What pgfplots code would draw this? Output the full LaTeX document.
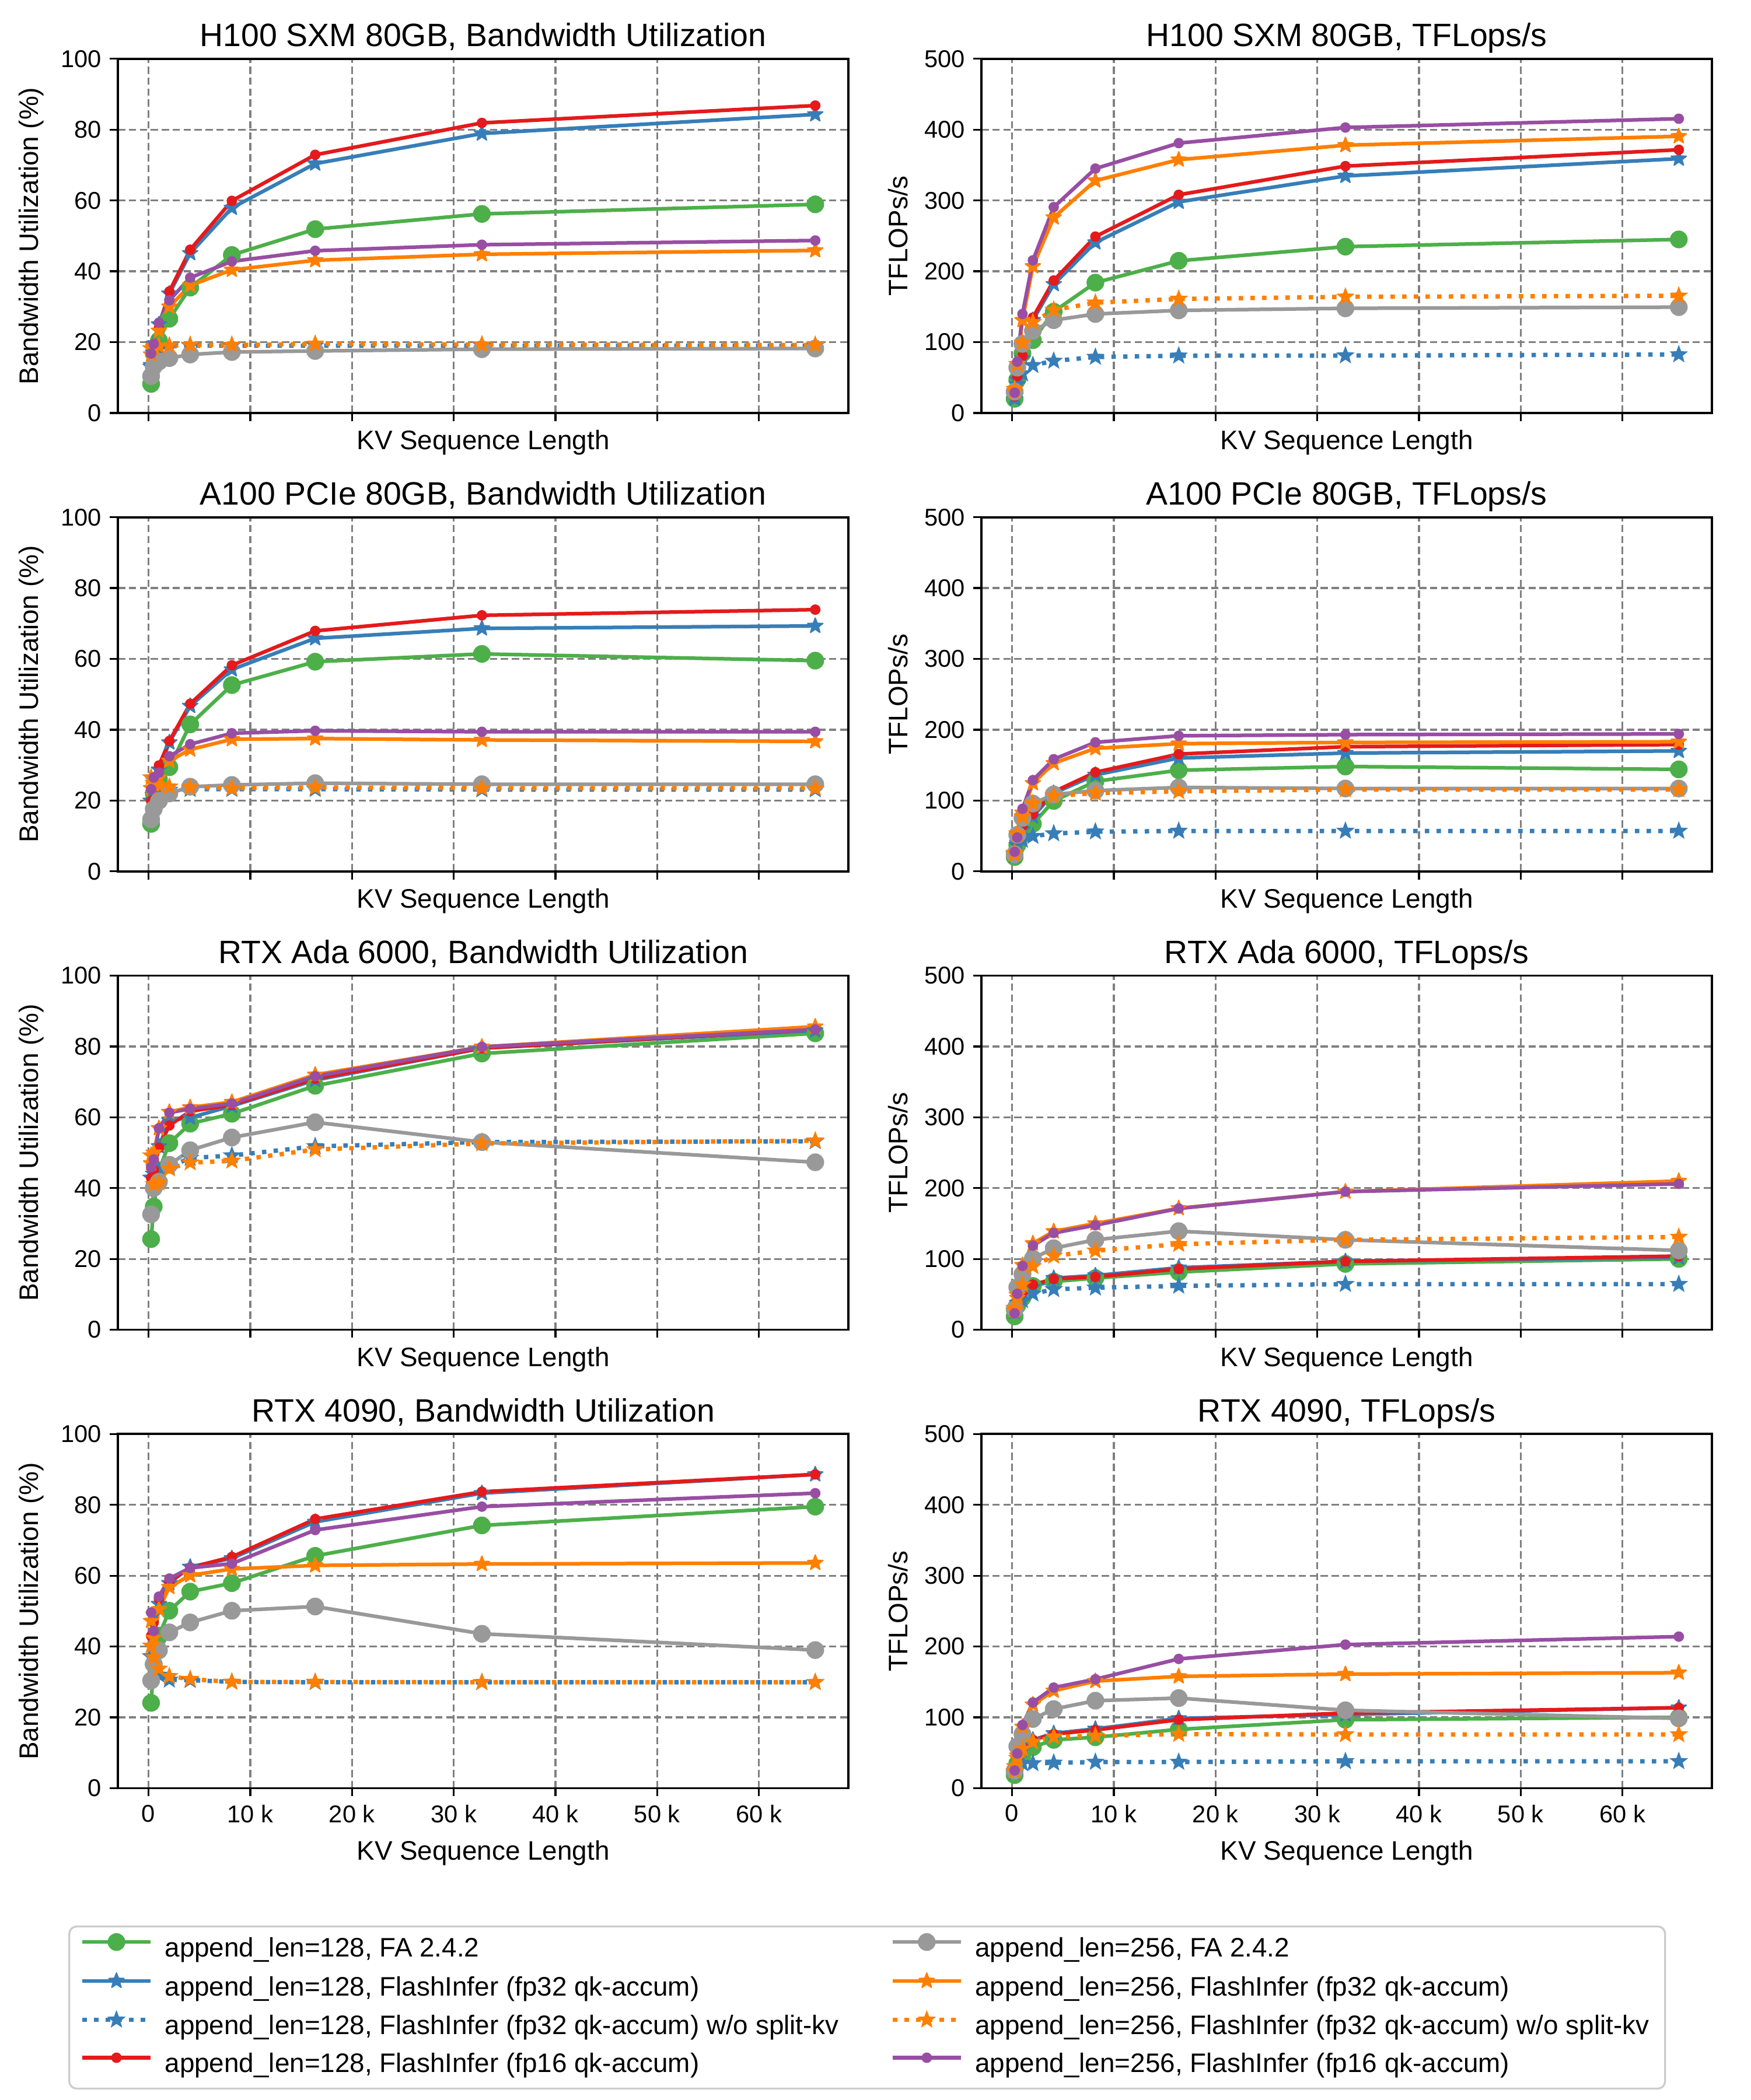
\documentclass[border=0pt]{standalone}
\usepackage{fontspec}
\setmainfont{Liberation Sans}
\usepackage{pgfplots}
\usepackage{pgfplotstable}
\pgfplotsset{compat=1.18}
\usepgfplotslibrary{groupplots}
\usetikzlibrary{calc}

\definecolor{cgreen}{HTML}{4DAF4A}
\definecolor{cblue}{HTML}{377EB8}
\definecolor{cred}{HTML}{E41A1C}
\definecolor{cgray}{HTML}{999999}
\definecolor{corange}{HTML}{FF7F00}
\definecolor{cpurple}{HTML}{984EA3}

\pgfdeclareplotmark{fstar}{%
  \pgfpathmoveto{\pgfpointpolar{90}{\pgfplotmarksize}}%
  \pgfpathlineto{\pgfpointpolar{126}{0.42\pgfplotmarksize}}%
  \pgfpathlineto{\pgfpointpolar{162}{\pgfplotmarksize}}%
  \pgfpathlineto{\pgfpointpolar{198}{0.42\pgfplotmarksize}}%
  \pgfpathlineto{\pgfpointpolar{234}{\pgfplotmarksize}}%
  \pgfpathlineto{\pgfpointpolar{270}{0.42\pgfplotmarksize}}%
  \pgfpathlineto{\pgfpointpolar{306}{\pgfplotmarksize}}%
  \pgfpathlineto{\pgfpointpolar{342}{0.42\pgfplotmarksize}}%
  \pgfpathlineto{\pgfpointpolar{18}{\pgfplotmarksize}}%
  \pgfpathlineto{\pgfpointpolar{54}{0.42\pgfplotmarksize}}%
  \pgfpathclose
  \pgfusepathqfillstroke
}

\pgfplotsset{
  sG/.style={color=cgreen, line width=1.5pt, solid, line join=round, mark=*, mark size=3.4pt, mark options={solid, fill=cgreen, line width=0.5pt}},
  sK/.style={color=cgray, line width=1.5pt, solid, line join=round, mark=*, mark size=3.4pt, mark options={solid, fill=cgray, line width=0.5pt}},
  sB/.style={color=cblue, line width=1.5pt, solid, line join=round, mark=fstar, mark size=3.3pt, mark options={solid, fill=cblue, line width=0.5pt}},
  sO/.style={color=corange, line width=1.5pt, solid, line join=round, mark=fstar, mark size=3.3pt, mark options={solid, fill=corange, line width=0.5pt}},
  sBd/.style={color=cblue, line width=1.8pt, dash pattern=on 1.8pt off 3pt, line cap=butt, mark=fstar, mark size=3.3pt, mark options={solid, fill=cblue, line width=0.5pt}},
  sOd/.style={color=corange, line width=1.8pt, dash pattern=on 1.8pt off 3pt, line cap=butt, mark=fstar, mark size=3.3pt, mark options={solid, fill=corange, line width=0.5pt}},
  sR/.style={color=cred, line width=1.5pt, solid, line join=round, mark=*, mark size=1.9pt, mark options={solid, fill=cred, line width=0.5pt}},
  sP/.style={color=cpurple, line width=1.5pt, solid, line join=round, mark=*, mark size=1.9pt, mark options={solid, fill=cpurple, line width=0.5pt}},
  upperrow/.style={xticklabels={}, xlabel style={at={(axis description cs:0.5,0)}, anchor=base, yshift=-15pt}},
  lowerrow/.style={xticklabels={0,10 k,20 k,30 k,40 k,50 k,60 k}, xlabel style={at={(axis description cs:0.5,0)}, anchor=base, yshift=-29.5pt}},
  bwaxis/.style={ymin=0, ymax=100, ytick={0,20,40,60,80,100}, ylabel={Bandwidth Utilization (\%)}},
  tfaxis/.style={ymin=0, ymax=500, ytick={0,100,200,300,400,500}, ylabel={TFLOPs/s}},
}

\newcommand{\allseries}[1]{%
  \addplot[sG] table[x=x,y=g]{#1};
  \addplot[sB] table[x=x,y=b]{#1};
  \addplot[sBd] table[x=x,y=bd]{#1};
  \addplot[sR] table[x=x,y=r]{#1};
  \addplot[sK] table[x=x,y=k]{#1};
  \addplot[sO] table[x=x,y=o]{#1};
  \addplot[sOd] table[x=x,y=od]{#1};
  \addplot[sP] table[x=x,y=p]{#1};
}

\pgfplotstableread{
x g b bd r k o od p
256 8.2 13.5 13.0 16.8 10.4 16.5 18.2 16.8
512 16.8 19.5 17.0 19.5 13.1 18.9 18.6 19.5
1024 20.5 25.0 18.3 24.0 14.5 23.2 18.9 25.5
2048 26.6 33.7 18.8 34.3 15.5 30.0 19.0 31.8
4096 35.4 45.1 19.0 46.1 16.5 36.0 19.2 38.2
8192 44.6 57.9 19.0 59.9 17.2 40.4 19.2 42.8
16384 51.9 70.4 19.0 72.9 17.5 43.1 19.5 45.8
32768 56.2 78.9 19.0 81.9 18.0 44.8 19.3 47.5
65536 58.9 84.3 19.0 86.8 18.2 45.9 19.2 48.7
}\tHbw

\pgfplotstableread{
x g b bd r k o od p
256 20.0 20.0 23.6 23.6 30.0 30.0 33.7 28.6
512 47.0 47.0 40.4 52.0 64.0 69.0 69.0 72.4
1024 84.0 77.0 55.6 80.8 97.6 131.0 99.0 139.7
2048 102.7 131.0 67.3 134.7 116.0 207.0 128.0 215.5
4096 143.0 181.8 73.4 187.0 131.0 276.0 145.5 290.6
8192 184.0 240.7 79.0 249.0 139.7 328.0 155.6 345.0
16384 214.8 298.0 80.8 308.0 144.8 357.6 161.0 381.0
32768 234.8 334.6 81.0 348.5 147.7 378.0 164.0 403.0
65536 245.0 359.0 82.5 371.6 149.4 390.6 165.4 415.4
}\tHtf

\pgfplotstableread{
x g b bd r k o od p
256 13.4 19.9 19.9 19.9 14.7 23.5 26.5 23.2
512 22.0 25.7 21.5 26.5 17.6 24.5 25.0 26.5
1024 26.0 28.7 22.5 29.9 19.9 26.5 24.3 27.9
2048 29.4 36.4 23.0 36.8 22.0 31.2 23.9 32.5
4096 41.5 46.7 23.2 47.3 23.9 34.4 23.7 35.9
8192 52.6 57.0 23.2 58.2 24.4 37.3 23.5 39.0
16384 59.2 65.8 23.2 67.9 24.9 37.5 23.7 39.7
32768 61.4 68.6 23.1 72.3 24.6 37.1 23.5 39.4
65536 59.5 69.3 23.1 73.9 24.6 36.7 23.5 39.4
}\tAbw

\pgfplotstableread{
x g b bd r k o od p
256 20.2 22.0 24.0 27.6 24.0 23.9 25.8 27.6
512 36.8 40.5 36.8 46.0 51.5 51.5 53.4 47.8
1024 51.5 59.0 44.2 64.4 75.4 82.8 77.3 88.3
2048 67.0 77.3 49.7 81.0 95.7 124.4 95.7 128.8
4096 99.4 110.4 53.4 112.3 108.6 152.7 106.7 158.3
8192 127.0 136.2 56.0 139.9 114.0 173.7 110.4 182.2
16384 142.8 160.0 57.0 165.6 118.5 180.3 113.0 191.4
32768 148.0 167.0 57.0 176.0 117.0 182.0 115.5 193.0
65536 144.0 170.0 57.0 179.0 117.0 183.0 115.5 194.0
}\tAtf

\pgfplotstableread{
x g b bd r k o od p
256 25.6 42.9 42.9 42.9 32.6 47.0 49.2 45.9
512 34.8 45.9 44.0 45.1 40.0 50.0 41.1 48.1
1024 45.0 51.8 45.0 51.4 41.8 56.9 41.5 56.9
2048 52.7 59.1 46.0 57.7 46.6 61.5 45.5 61.3
4096 58.2 59.9 48.5 61.7 50.7 62.8 47.2 62.4
8192 61.0 63.2 49.2 63.5 54.3 64.3 47.7 63.9
16384 68.9 70.5 51.8 70.9 58.6 72.0 50.9 71.6
32768 78.0 79.5 53.0 79.5 53.0 79.9 52.6 79.9
65536 83.7 84.5 53.2 84.8 47.3 85.6 53.4 84.8
}\tEbw

\pgfplotstableread{
x g b bd r k o od p
256 18.8 25.0 26.9 26.9 28.7 27.0 30.6 23.2
512 34.2 37.9 34.2 41.6 60.0 45.0 49.0 50.8
1024 45.3 50.8 41.6 52.7 78.4 91.3 63.7 90.2
2048 61.9 60.0 50.8 63.7 100.5 121.9 89.5 118.9
4096 68.1 72.9 57.1 71.8 115.2 139.0 104.2 136.6
8192 72.9 76.6 59.3 74.7 127.0 150.0 111.6 147.6
16384 81.4 87.6 61.9 85.8 139.2 171.5 120.8 171.2
32768 93.0 96.6 64.4 96.6 127.0 195.0 127.0 195.0
65536 100.0 102.0 64.4 104.0 112.0 210.0 131.0 206.0
}\tEtf

\pgfplotstableread{
x g b bd r k o od p
256 24.1 37.2 37.2 43.0 30.4 47.2 40.2 49.6
512 35.0 49.0 34.3 46.8 35.0 42.4 36.9 44.4
1024 43.1 52.0 32.0 53.5 38.9 50.5 33.7 54.1
2048 50.1 57.9 30.6 58.3 44.0 56.8 31.6 59.2
4096 55.5 62.5 30.5 62.3 46.8 60.1 30.8 62.2
8192 57.9 64.9 30.0 65.3 50.1 61.9 30.0 63.4
16384 65.6 75.2 29.9 76.0 51.3 62.9 30.0 72.9
32768 74.2 83.3 29.9 83.7 43.6 63.3 29.9 79.5
65536 79.5 88.6 29.9 88.6 39.0 63.6 29.9 83.3
}\tRbw

\pgfplotstableread{
x g b bd r k o od p
256 18.4 24.0 22.0 29.5 24.7 31.0 24.0 25.0
512 35.0 42.4 29.5 46.0 59.0 46.0 42.4 49.0
1024 46.0 53.5 35.0 59.0 76.3 86.7 55.3 89.2
2048 57.9 68.2 35.0 68.2 97.7 118.0 65.3 121.0
4096 68.2 77.4 35.8 76.3 111.7 137.5 72.6 142.0
8192 71.9 83.7 36.9 82.2 123.5 151.2 73.7 153.8
16384 83.0 98.5 36.9 96.6 127.2 157.8 76.3 182.5
32768 96.6 104.0 37.9 106.0 110.0 161.0 75.8 202.7
65536 100.0 113.6 37.9 113.6 98.5 163.0 75.8 214.0
}\tRtf

\begin{document}
\begin{tikzpicture}
\begin{groupplot}[
  group style={group size=2 by 4, horizontal sep=54.7pt, vertical sep=42.9pt},
  scale only axis, width=300.5pt, height=145.7pt,
  xmin=-3008, xmax=68800,
  xtick={0,10000,20000,30000,40000,50000,60000},
  scaled ticks=false,
  xlabel={KV Sequence Length},
  tick pos=left, tick align=outside,
  major tick length=3.3pt,
  tick style={black, line width=0.8pt},
  axis line style={black, line width=0.9pt},
  grid=major,
  major grid style={color=gray, line width=0.8pt, dash pattern=on 3pt off 1.5pt},
  /pgf/number format/assume math mode=true,
  tick label style={font=\fontsize{10}{12}\selectfont},
  label style={font=\fontsize{11}{13}\selectfont},
  title style={font=\fontsize{13.3}{15}\selectfont, at={(0.5,1)}, anchor=base, yshift=-1pt},
]
\nextgroupplot[upperrow, bwaxis, title={H100 SXM 80GB, Bandwidth Utilization}]
\allseries{\tHbw}
\nextgroupplot[upperrow, tfaxis, title={H100 SXM 80GB, TFLops/s}]
\allseries{\tHtf}
\nextgroupplot[upperrow, bwaxis, title={A100 PCIe 80GB, Bandwidth Utilization}]
\allseries{\tAbw}
\nextgroupplot[upperrow, tfaxis, title={A100 PCIe 80GB, TFLops/s}]
\allseries{\tAtf}
\nextgroupplot[upperrow, bwaxis, title={RTX Ada 6000, Bandwidth Utilization}]
\allseries{\tEbw}
\nextgroupplot[upperrow, tfaxis, title={RTX Ada 6000, TFLops/s}]
\allseries{\tEtf}
\nextgroupplot[lowerrow, bwaxis, title={RTX 4090, Bandwidth Utilization}]
\allseries{\tRbw}
\nextgroupplot[lowerrow, tfaxis, title={RTX 4090, TFLops/s}]
\allseries{\tRtf}
\end{groupplot}

\begin{axis}[
  at={($(group c1r1.north west)+(308.2pt,-768pt)$)}, anchor=center,
  hide axis, scale only axis, width=1pt, height=1pt,
  xmin=0, xmax=1, ymin=0, ymax=1,
  legend columns=2,
  legend cell align=left,
  legend image code/.code={\draw[mark repeat=2, mark phase=2, #1] plot coordinates {(0pt,3.4pt) (14pt,3.4pt) (28pt,3.4pt)};},
  legend style={at={(0.5,0.5)}, anchor=north, draw=black!20, line width=0.8pt, rounded corners=3pt, fill=white,
    font=\fontsize{11}{13}\selectfont, inner xsep=4.5pt, inner ysep=3pt, row sep=3pt,
    nodes={inner xsep=2pt, inner ysep=1pt, text height=8pt, text depth=2.6pt},
    /tikz/every odd column/.append style={column sep=3pt}},
]
\addlegendimage{sG}\addlegendentry{\makebox[296.5pt][l]{append\_len=128, FA 2.4.2}}
\addlegendimage{sK}\addlegendentry{append\_len=256, FA 2.4.2}
\addlegendimage{sB}\addlegendentry{\makebox[296.5pt][l]{append\_len=128, FlashInfer (fp32 qk-accum)}}
\addlegendimage{sO}\addlegendentry{append\_len=256, FlashInfer (fp32 qk-accum)}
\addlegendimage{sBd}\addlegendentry{\makebox[296.5pt][l]{append\_len=128, FlashInfer (fp32 qk-accum) w/o split-kv}}
\addlegendimage{sOd}\addlegendentry{append\_len=256, FlashInfer (fp32 qk-accum) w/o split-kv}
\addlegendimage{sR}\addlegendentry{\makebox[296.5pt][l]{append\_len=128, FlashInfer (fp16 qk-accum)}}
\addlegendimage{sP}\addlegendentry{append\_len=256, FlashInfer (fp16 qk-accum)}
\end{axis}

\path ($(group c1r1.north west)+(-48.5pt,24.2pt)$) rectangle ($(group c1r1.north west)+(671.5pt,-839.8pt)$);
\end{tikzpicture}
\end{document}
